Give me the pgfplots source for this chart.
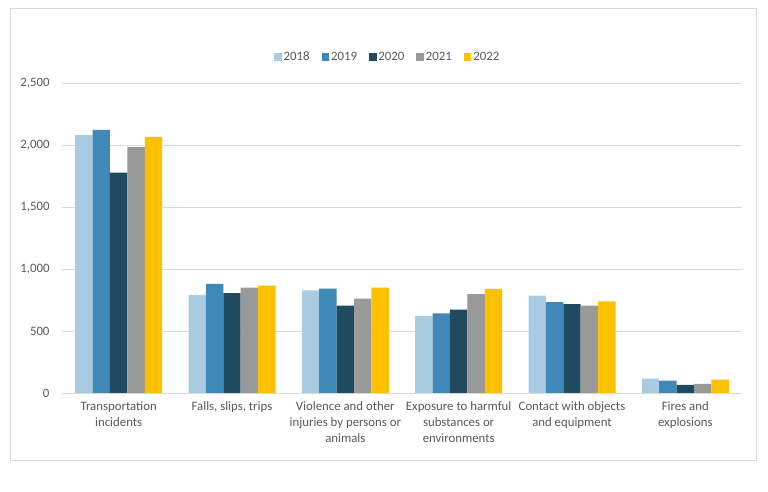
\documentclass[border=0pt]{standalone}
\usepackage{pgfplots}
\pgfplotsset{compat=1.18}
\usepackage{fontspec}
\setmainfont{Carlito}
\definecolor{c18}{HTML}{A9CCE3}
\definecolor{c19}{HTML}{3F88B8}
\definecolor{c20}{HTML}{1F4A60}
\definecolor{c21}{HTML}{999999}
\definecolor{c22}{HTML}{FFC000}
\definecolor{txt}{HTML}{595959}
\definecolor{gridc}{HTML}{D9D9D9}
\pgfplotsset{sq/.style={fill=#1, draw=none, legend image code/.code={\fill[#1] (0bp,-3.5bp) rectangle (7.5bp,4bp);}}}
\begin{document}
\begin{tikzpicture}
\useasboundingbox (0,0) rectangle (768bp,492bp);
\fill[white] (0,0) rectangle (768bp,492bp);
\draw[gridc, line width=0.8bp] (10bp,32bp) rectangle (756bp,484bp);
\begin{axis}[
  at={(62bp,99bp)}, anchor=south west,
  scale only axis, width=680bp, height=310bp,
  ybar=0pt, bar width=17.4bp,
  xmin=-0.5, xmax=5.5, ymin=0, ymax=2500,
  ytick={0,500,1000,1500,2000,2500},
  xtick={0,1,2,3,4,5},
  xticklabels={{Transportation\\incidents},{Falls, slips, trips},{Violence and other\\injuries by persons or\\animals},{Exposure to harmful\\substances or\\environments},{Contact with objects\\and equipment},{Fires and\\explosions}},
  xticklabel style={align=center, font=\fontsize{12.8bp}{16bp}\selectfont, text=txt, yshift=-5.5bp},
  yticklabel style={font=\fontsize{12.8bp}{14bp}\selectfont, text=txt, xshift=-9bp},
  /pgf/number format/assume math mode=true,
  /pgf/number format/1000 sep={,},
  scaled y ticks=false,
  major tick length=0pt,
  axis line style={draw=none},
  xmajorgrids=false, ymajorgrids=true,
  grid style={draw=gridc, line width=0.8bp},
  legend style={at={(0.479,1.083)}, anchor=center, draw=none, fill=none, legend columns=5,
    font=\fontsize{12.8bp}{14bp}\selectfont, text=txt,
    /tikz/every even column/.append style={column sep=10bp}},
]
\addplot[sq=c18] coordinates {(0,2080) (1,791) (2,828) (3,621) (4,786) (5,115)};
\addplot[sq=c19] coordinates {(0,2122) (1,880) (2,841) (3,642) (4,732) (5,99)};
\addplot[sq=c20] coordinates {(0,1778) (1,805) (2,705) (3,672) (4,716) (5,65)};
\addplot[sq=c21] coordinates {(0,1982) (1,850) (2,761) (3,798) (4,705) (5,73)};
\addplot[sq=c22] coordinates {(0,2066) (1,865) (2,849) (3,839) (4,738) (5,107)};
\legend{2018,2019,2020,2021,2022}
\end{axis}
\end{tikzpicture}
\end{document}
